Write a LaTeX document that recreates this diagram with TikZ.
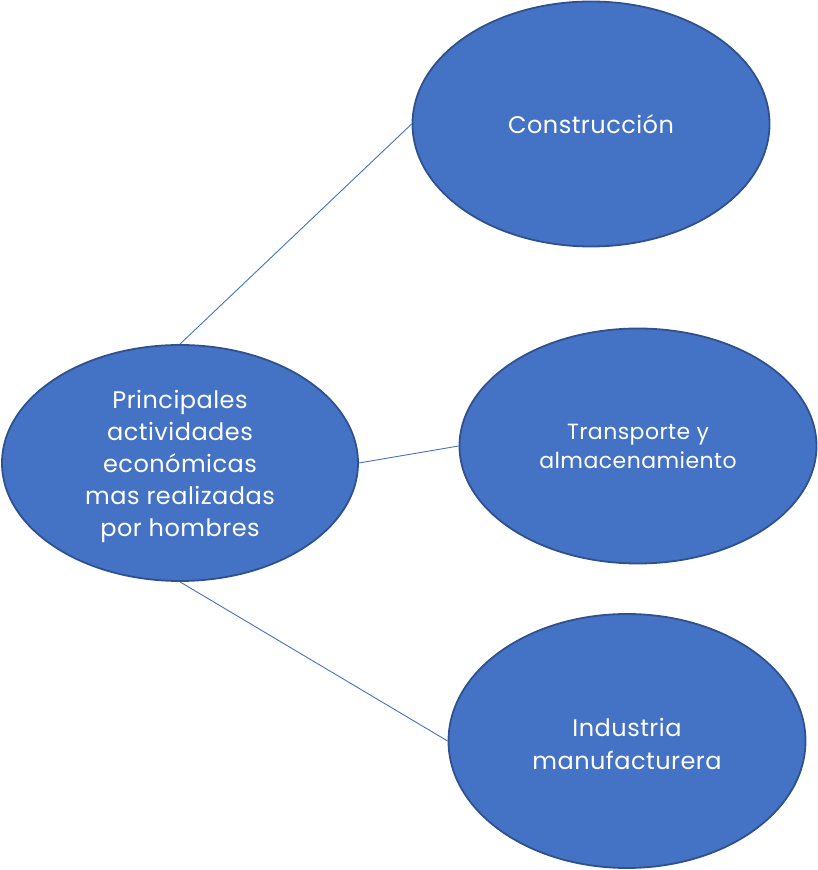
\documentclass[tikz,border=0pt]{standalone}
\usepackage{fontspec}
\setmainfont{Poppins}
\usetikzlibrary{shapes.geometric}
\definecolor{fillblue}{HTML}{4472C4}
\definecolor{edgeblue}{HTML}{2F528F}
\tikzset{
  bubble/.style={ellipse, draw=edgeblue, line width=1.8pt, fill=fillblue, inner sep=0pt,
    text=white, align=center, font=\fontsize{24}{32}\selectfont\addfontfeatures{LetterSpace=2}},
  link/.style={draw=fillblue, line width=0.9pt}
}
\begin{document}
\begin{tikzpicture}[x=1pt,y=1pt]
\useasboundingbox (0,0) rectangle (818,870);
\node[bubble, minimum width=356pt, minimum height=236pt] (main) at (180,407) {};
\node[text=white, align=center, inner sep=0pt, font=\fontsize{24}{32}\selectfont\addfontfeatures{LetterSpace=2}] (maintext) at (180,404)
  {Principales\\actividades\\económicas\\mas realizadas\\por hombres};
\node[bubble, minimum width=357pt, minimum height=245pt] (cons) at (591,746) {Construcción};
\node[bubble, minimum width=357pt, minimum height=235pt, font=\fontsize{22}{29}\selectfont\addfontfeatures{LetterSpace=2}] (trans) at (638,424)
  {Transporte y\\almacenamiento};
\node[bubble, minimum width=357pt, minimum height=254pt] (ind) at (627,129) {};
\node[text=white, align=center, inner sep=0pt, font=\fontsize{24}{33}\selectfont\addfontfeatures{LetterSpace=2}] (indtext) at (627,126)
  {Industria\\manufacturera};
\draw[link] (main.north) -- (cons.west);
\draw[link] (main.east) -- (trans.west);
\draw[link] (main.south) -- (ind.west);
\end{tikzpicture}
\end{document}
